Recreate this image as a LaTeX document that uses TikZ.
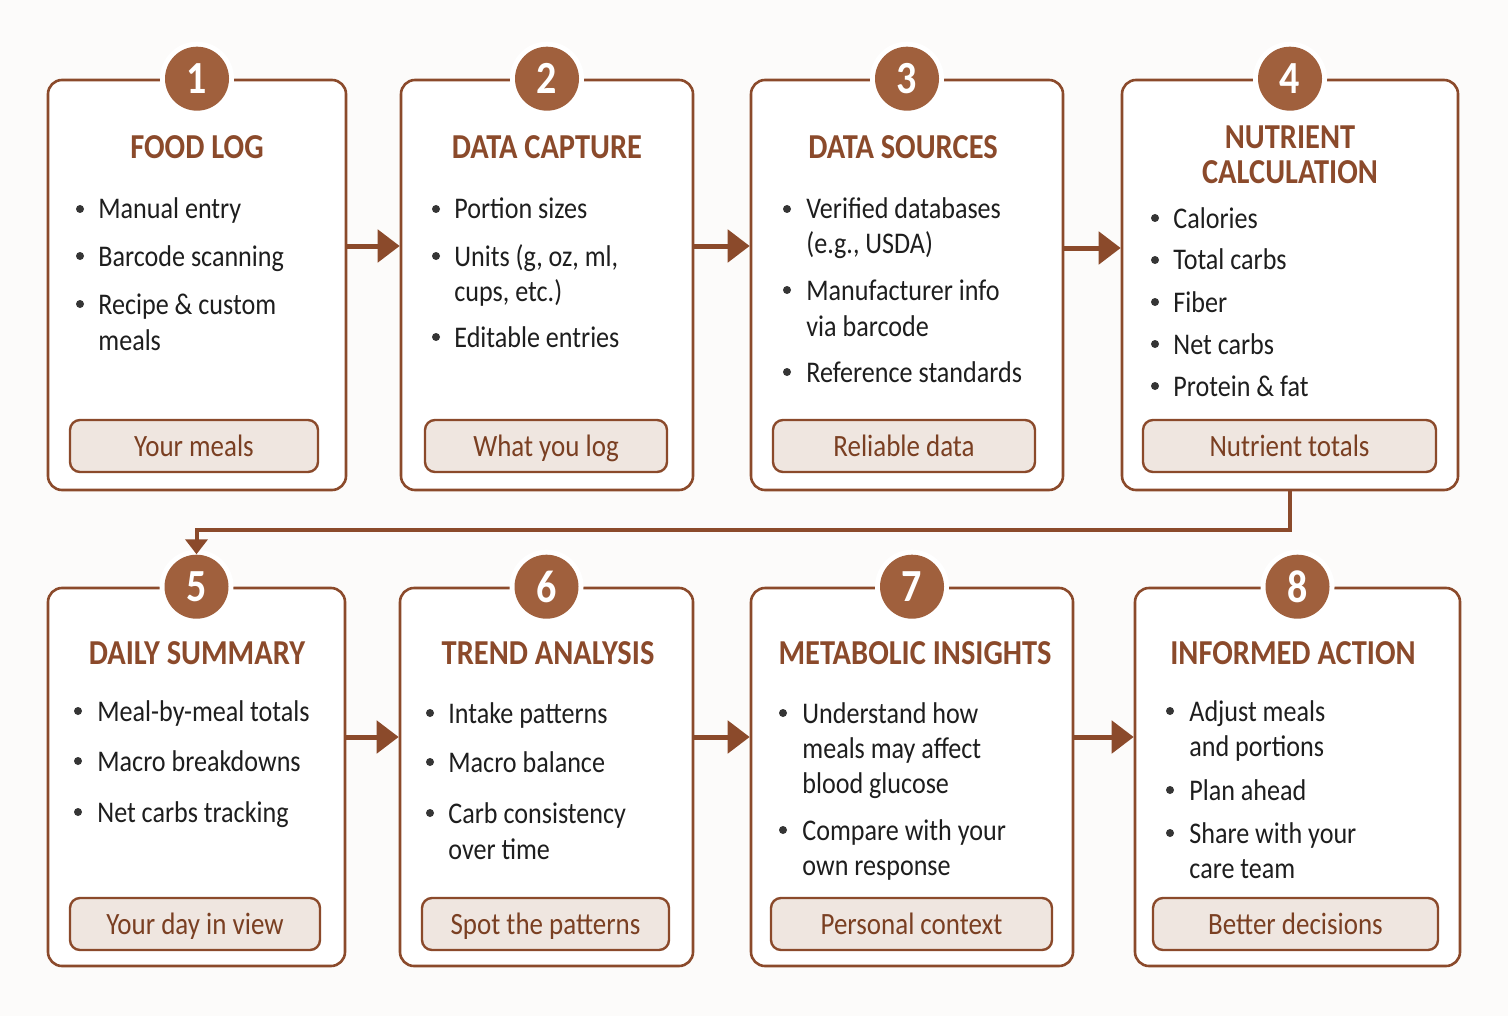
\documentclass[tikz,border=0pt]{standalone}
\usepackage{fontspec}
\setmainfont{Carlito}[FakeStretch=0.87]
\usetikzlibrary{arrows.meta,positioning}

\definecolor{cocoa}{HTML}{8B4A2B}
\definecolor{badgebrown}{HTML}{A0603D}
\definecolor{tagfill}{HTML}{EFE6E0}
\definecolor{tagtext}{HTML}{7A3F22}
\definecolor{paper}{HTML}{FCFBFA}
\definecolor{ink}{HTML}{1E1E1E}

\tikzset{
  card/.style={draw=cocoa, line width=1.3pt, rounded corners=7pt, fill=white, minimum height=205pt},
  lowcard/.style={card, minimum height=189pt},
  badge/.style={circle, fill=badgebrown, minimum size=32pt, inner sep=0pt, text=white,
    font=\fontsize{23}{23}\selectfont\bfseries, preaction={draw=white, line width=5pt}},
  title/.style={anchor=base, text=cocoa, inner sep=0pt, font=\fontsize{17.5}{20}\selectfont\bfseries},
  line/.style={anchor=base west, text=ink, inner sep=0pt, font=\fontsize{15}{18}\selectfont},
  tag/.style={draw=cocoa, line width=1.2pt, rounded corners=5pt, fill=tagfill, minimum height=26pt,
    text height=11pt, text depth=1pt, text=tagtext, font=\fontsize{15.5}{18}\selectfont},
  dot/.style={fill=ink!90},
  flow/.style={draw=cocoa, line width=2.5pt, -{Triangle[length=11pt,width=16pt]}},
  link/.style={draw=cocoa, line width=2pt, -{Triangle[length=7.5pt,width=11pt]}}
}

\begin{document}
\begin{tikzpicture}[x=0.5pt,y=-0.5pt]

\fill [paper] (0,0) rectangle (1508,1016);
\useasboundingbox (0,0) rectangle (1508,1016);

% cards of the top row
\node [card, minimum width=149pt] (c1) at (197,285) {};
\node [card, minimum width=146pt] (c2) at (547,285) {};
\node [card, minimum width=156pt] (c3) at (907,285) {};
\node [card, minimum width=168pt] (c4) at (1290,285) {};

% cards of the bottom row
\node [lowcard, minimum width=148.5pt] (c5) at (196.5,777) {};
\node [lowcard, minimum width=146.5pt] (c6) at (546.5,777) {};
\node [lowcard, minimum width=161pt] (c7) at (912,777) {};
\node [lowcard, minimum width=162.5pt] (c8) at (1297.5,777) {};

% arrows between cards
\draw [flow] (c1.east |- 0,246) -- (c2.west |- 0,246);
\draw [flow] (c2.east |- 0,246) -- (c3.west |- 0,246);
\draw [flow] (c3.east |- 0,248) -- (c4.west |- 0,248);
\draw [flow] (c5.east |- 0,737) -- (c6.west |- 0,737);
\draw [flow] (c6.east |- 0,737) -- (c7.west |- 0,737);
\draw [flow] (c7.east |- 0,737) -- (c8.west |- 0,737);

% step 1
\node [badge] (n1) at (c1.north) {1};
\node [title] (t1) at (197,159) {FOOD LOG};
\fill [dot] (80,209) circle (2pt);
\node [line] (l1a) at (98,219) {Manual entry};
\fill [dot] (80,256) circle (2pt);
\node [line] (l1b) at (98,266) {Barcode scanning};
\fill [dot] (80,304) circle (2pt);
\node [line] (l1c) at (98,314) {Recipe \& custom};
\node [line] (l1d) at (98,350) {meals};
\node [tag, minimum width=124pt] (g1) at (194,446) {Your meals};

% step 2
\node [badge] (n2) at (c2.north) {2};
\node [title] (t2) at (547,159) {DATA CAPTURE};
\fill [dot] (436,209) circle (2pt);
\node [line] (l2a) at (454,219) {Portion sizes};
\fill [dot] (436,256) circle (2pt);
\node [line] (l2b) at (454,266) {Units (g, oz, ml,};
\node [line] (l2c) at (454,301) {cups, etc.)};
\fill [dot] (436,337) circle (2pt);
\node [line] (l2d) at (454,347) {Editable entries};
\node [tag, minimum width=121pt] (g2) at (546,446) {What you log};

% step 3
\node [badge] (n3) at (c3.north) {3};
\node [title] (t3) at (903,159) {DATA SOURCES};
\fill [dot] (787,209) circle (2pt);
\node [line] (l3a) at (806,219) {Verified databases};
\node [line] (l3b) at (806,254) {(e.g., USDA)};
\fill [dot] (787,290) circle (2pt);
\node [line] (l3c) at (806,300) {Manufacturer info};
\node [line] (l3d) at (806,336) {via barcode};
\fill [dot] (787,372) circle (2pt);
\node [line] (l3e) at (806,382) {Reference standards};
\node [tag, minimum width=131pt] (g3) at (904,446) {Reliable data};

% step 4
\node [badge] (n4) at (c4.north) {4};
\node [title] (t4a) at (1290,149) {NUTRIENT};
\node [title] (t4b) at (1290,184) {CALCULATION};
\fill [dot] (1155,218) circle (2pt);
\node [line] (l4a) at (1173,228) {Calories};
\fill [dot] (1155,260) circle (2pt);
\node [line] (l4b) at (1173,270) {Total carbs};
\fill [dot] (1155,302) circle (2pt);
\node [line] (l4c) at (1173,312) {Fiber};
\fill [dot] (1155,344) circle (2pt);
\node [line] (l4d) at (1173,354) {Net carbs};
\fill [dot] (1155,386) circle (2pt);
\node [line] (l4e) at (1173,396) {Protein \& fat};
\node [tag, minimum width=146.5pt] (g4) at (1289.5,446) {Nutrient totals};

% step 5
\node [badge] (n5) at (c5.north) {5};
\node [title] (t5) at (197,664) {DAILY SUMMARY};
\fill [dot] (78,711) circle (2pt);
\node [line] (l5a) at (97,721) {Meal-by-meal totals};
\fill [dot] (78,761) circle (2pt);
\node [line] (l5b) at (97,771) {Macro breakdowns};
\fill [dot] (78,812) circle (2pt);
\node [line] (l5c) at (97,822) {Net carbs tracking};
\node [tag, minimum width=125pt] (g5) at (195,924) {Your day in view};

% from step 4 down to step 5
\coordinate (turn) at (0,530);
\draw [link] (c4.south) -- (c4.south |- turn) -| (n5.north);

% step 6
\node [badge] (n6) at (c6.north) {6};
\node [title] (t6) at (548,664) {TREND ANALYSIS};
\fill [dot] (430,713) circle (2pt);
\node [line] (l6a) at (448,723) {Intake patterns};
\fill [dot] (430,762) circle (2pt);
\node [line] (l6b) at (448,772) {Macro balance};
\fill [dot] (430,813) circle (2pt);
\node [line] (l6c) at (448,823) {Carb consistency};
\node [line] (l6d) at (448,859) {over time};
\node [tag, minimum width=123.5pt] (g6) at (545.5,924) {Spot the patterns};

% step 7
\node [badge] (n7) at (c7.north) {7};
\node [title] (t7) at (915,664) {METABOLIC INSIGHTS};
\fill [dot] (783,713) circle (2pt);
\node [line] (l7a) at (802,723) {Understand how};
\node [line] (l7b) at (802,758) {meals may affect};
\node [line] (l7c) at (802,793) {blood glucose};
\fill [dot] (783,830) circle (2pt);
\node [line] (l7d) at (802,840) {Compare with your};
\node [line] (l7e) at (802,875) {own response};
\node [tag, minimum width=140.5pt] (g7) at (911.5,924) {Personal context};

% step 8
\node [badge] (n8) at (c8.north) {8};
\node [title] (t8) at (1293,664) {INFORMED ACTION};
\fill [dot] (1170,711) circle (2pt);
\node [line] (l8a) at (1189,721) {Adjust meals};
\node [line] (l8b) at (1189,756) {and portions};
\fill [dot] (1170,790) circle (2pt);
\node [line] (l8c) at (1189,800) {Plan ahead};
\fill [dot] (1170,833) circle (2pt);
\node [line] (l8d) at (1189,843) {Share with your};
\node [line] (l8e) at (1189,878) {care team};
\node [tag, minimum width=142.5pt] (g8) at (1295.5,924) {Better decisions};

\end{tikzpicture}
\end{document}
